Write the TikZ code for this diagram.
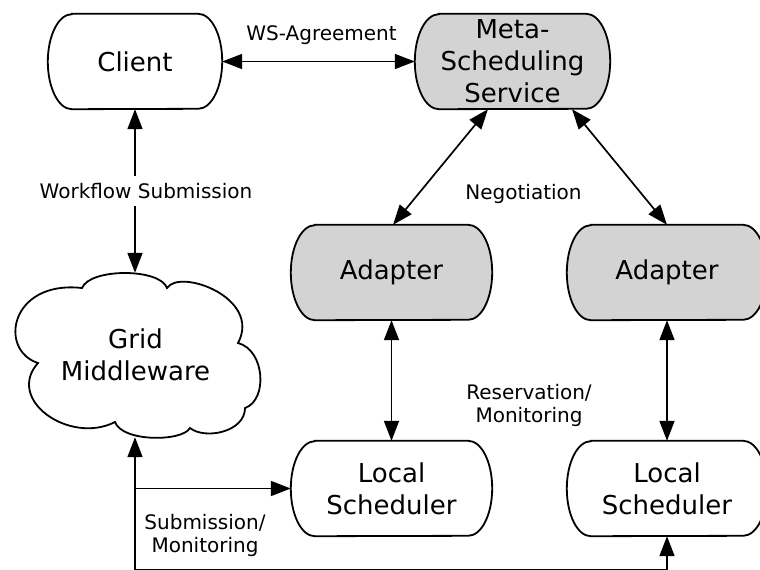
\documentclass[tikz,border=0pt]{standalone}
\usepackage{fontspec}
\setmainfont{DejaVu Sans}
\usetikzlibrary{arrows.meta,backgrounds,calc}
\definecolor{boxgrey}{RGB}{211,211,211}
\newcommand\bigf{\fontsize{26}{32}\selectfont}
\newcommand\labf{\fontsize{20}{23}\selectfont}
\newcommand\termoutline[2]{%
  \begin{scope}[on background layer]
  \path[draw=black,line width=1.8pt,fill=#2]
   ($(#1.north west)+(24pt,0pt)$) -- ($(#1.north east)+(-24pt,0pt)$)
   arc[start angle=90,end angle=-90,x radius=24pt,y radius=47.5pt]
   -- ($(#1.south west)+(24pt,0pt)$)
   arc[start angle=270,end angle=90,x radius=24pt,y radius=47.5pt] -- cycle;
  \end{scope}}
\begin{document}
\begin{tikzpicture}[x=1pt,y=-1pt,
  term/.style={rectangle,minimum height=95pt,inner sep=0pt,align=center,font=\bigf},
  lab/.style={font=\labf,align=center,inner sep=0pt},
  cloudline/.style={draw=black,line width=1.8pt,line join=miter},
  conn/.style={line width=1.7pt,{Triangle[length=20pt,width=15pt]}-{Triangle[length=20pt,width=15pt]}},
  oneway/.style={line width=1.7pt,-{Triangle[length=20pt,width=15pt]}}]
\useasboundingbox (0,0) rectangle (760,570);
\begin{scope}[on background layer]
\fill[white] (0,0) rectangle (760,570);
\end{scope}
% nodes
\node[term,minimum width=174pt] (client) at (135,61.5) {Client};
\node[term,minimum width=195pt] (meta) at (512.5,61.5) {Meta-\\Scheduling\\Service};
\node[term,minimum width=201pt] (ad1) at (391.5,272.5) {Adapter};
\node[term,minimum width=200pt] (ad2) at (667,272.5) {Adapter};
\node[term,minimum width=201pt] (ls1) at (391.5,488.5) {Local\\Scheduler};
\node[term,minimum width=200pt] (ls2) at (667,488.5) {Local\\Scheduler};
\termoutline{client}{white}
\termoutline{meta}{boxgrey}
\termoutline{ad1}{boxgrey}
\termoutline{ad2}{boxgrey}
\termoutline{ls1}{white}
\termoutline{ls2}{white}
\node[rectangle,minimum width=245pt,minimum height=164pt,inner sep=0pt,align=center,font=\bigf]
  (grid) at (135.5,355) {Grid\\Middleware};
% cloud outline
\path[cloudline] (82,288)
  .. controls (90,268) and (160,268) .. (167,288)
  .. controls (180,268) and (262,298) .. (238,343)
  .. controls (265,350) and (268,400) .. (245,408)
  .. controls (245,432) and (205,440) .. (190,428)
  .. controls (182,442) and (122,442) .. (115,422)
  .. controls (70,445) and (5,400) .. (38,363)
  .. controls (-2,350) and (10,280) .. (82,288) -- cycle;
% connectors
\draw[conn] (client.east) -- (meta.west);
\draw[conn] (client.south) -- (client.south |- grid.north);
\draw[conn] ($(meta.south)+(-24.5pt,0pt)$) -- ($(ad1.north)+(1.5pt,0pt)$);
\draw[conn] ($(meta.south)+(59.5pt,0pt)$) -- (ad2.north);
\draw[conn] (ad1.south) -- (ls1.north);
\draw[conn] (ad2.south) -- (ls2.north);
\coordinate (b0) at (135,575);
\coordinate (b1) at (135,570.3);
\draw[oneway] (b0) -- (b0 |- grid.south);
\draw[oneway] (b0 |- ls1.west) -- (ls1.west);
\draw[oneway] (b1) -- (b1 -| ls2.south) -- (ls2.south);
% labels
\node[lab,anchor=base] (wsa) at (321.5,40.7) {WS-Agreement};
\node[lab,fill=white,inner xsep=2pt,inner ysep=7pt] (wfs) at (146,191) {Workflow Submission};
\node[lab,anchor=base] (neg) at (523.5,199) {Negotiation};
\node[lab] (resmon) at (529,405) {Reservation/\\Monitoring};
\node[lab] (submon) at (205,535) {Submission/\\Monitoring};
\end{tikzpicture}
\end{document}
